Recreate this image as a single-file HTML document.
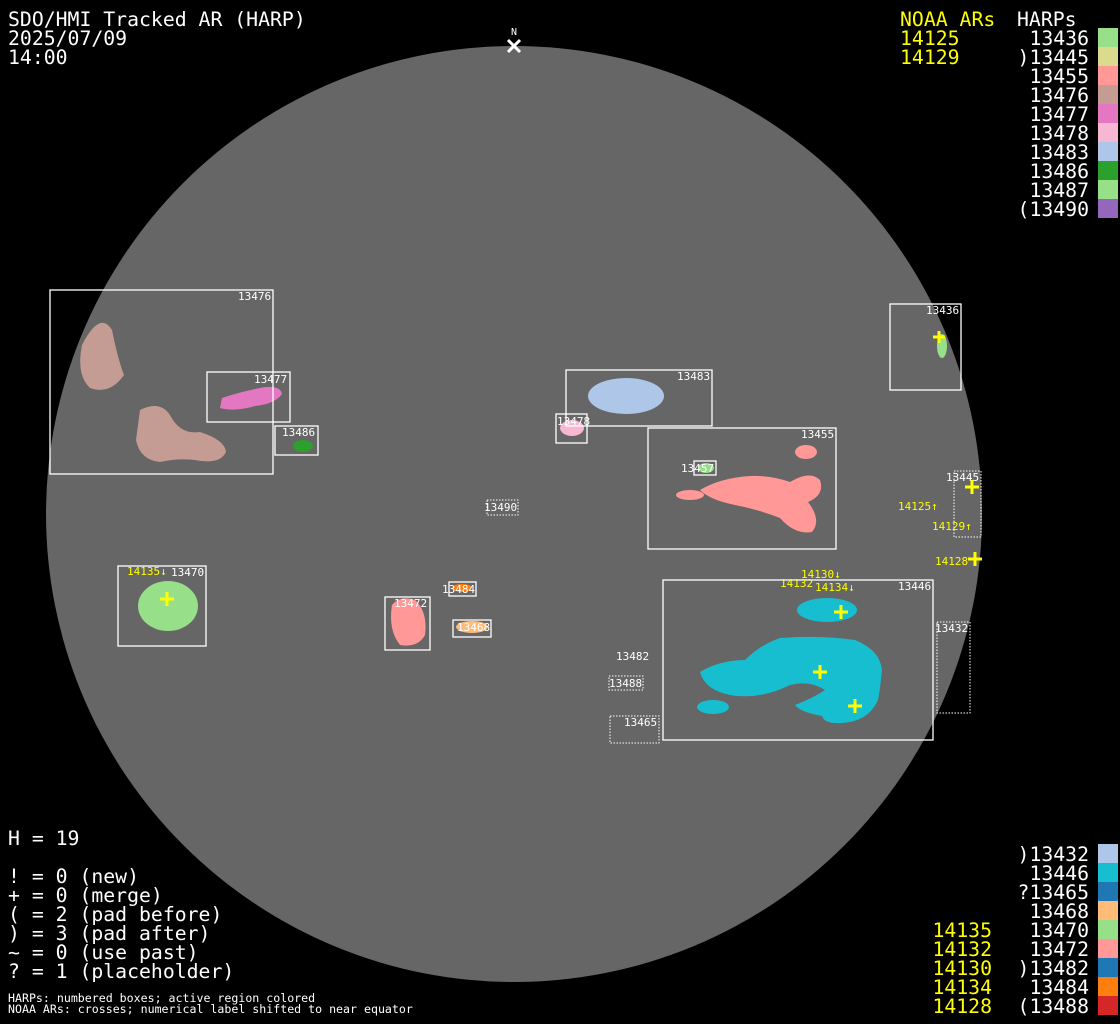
<!DOCTYPE html>
<html><head><meta charset="utf-8"><style>
html,body{margin:0;padding:0;background:#000;width:1120px;height:1024px;overflow:hidden}
svg{display:block}
text{font-family:"DejaVu Sans Mono","Liberation Mono",monospace}
</style></head><body>
<svg width="1120" height="1024" viewBox="0 0 1120 1024" xmlns="http://www.w3.org/2000/svg">
<rect width="1120" height="1024" fill="#000"/>
<circle cx="514" cy="514" r="468" fill="#666"/>
<g stroke="#fff" stroke-width="3"><line x1="508" y1="40" x2="520" y2="52"/><line x1="520" y1="40" x2="508" y2="52"/></g>
<text x="514" y="35" fill="#fff" font-size="10" text-anchor="middle">N</text>

<g>
<path d="M82,345 Q100,310 112,330 Q118,360 124,375 Q110,395 90,388 Q76,375 82,345Z" fill="#c49c94"/>
<path d="M140,410 Q160,400 170,415 Q180,435 200,432 Q225,440 226,452 Q220,465 195,460 Q178,458 160,462 Q140,460 136,440Z" fill="#c49c94"/>
<path d="M222,398 Q240,392 260,388 Q280,384 282,394 Q275,404 255,406 Q235,412 220,408Z" fill="#e377c2"/>
<ellipse cx="303" cy="446" rx="10" ry="6" fill="#2ca02c"/>
<ellipse cx="626" cy="396" rx="38" ry="18" fill="#aec7e8"/>
<ellipse cx="572" cy="428" rx="12" ry="8" fill="#f7b6d2"/>
<path d="M700,490 Q720,478 750,476 Q770,475 790,482 Q810,470 820,480 Q825,495 808,502 Q822,520 812,532 Q795,535 780,518 Q760,510 735,505 Q710,500 700,490Z" fill="#ff9896"/>
<ellipse cx="690" cy="495" rx="14" ry="5" fill="#ff9896"/>
<ellipse cx="806" cy="452" rx="11" ry="7" fill="#ff9896"/>
<ellipse cx="706" cy="468" rx="8" ry="5" fill="#98df8a"/>
<ellipse cx="942" cy="346" rx="5" ry="12" fill="#98df8a"/>
<ellipse cx="168" cy="606" rx="30" ry="25" fill="#98df8a"/>
<path d="M392,605 Q400,595 415,600 Q428,612 425,635 Q418,648 400,645 Q388,630 392,605Z" fill="#ff9896"/>
<ellipse cx="472" cy="627" rx="16" ry="6" fill="#ffbb78"/>
<ellipse cx="462" cy="588" rx="10" ry="4" fill="#ff7f0e"/>
<ellipse cx="827" cy="610" rx="30" ry="12" fill="#17becf"/>
<path d="M700,672 Q720,660 745,660 Q760,645 780,638 Q820,635 855,640 Q880,650 882,670 Q880,690 878,700 Q870,718 850,722 Q825,726 822,716 Q800,712 795,705 Q815,697 825,690 Q810,680 790,685 Q760,700 730,695 Q705,690 700,672Z" fill="#17becf"/>
<ellipse cx="713" cy="707" rx="16" ry="7" fill="#17becf"/>
</g>
<g fill="none" stroke="#fff" stroke-width="1.3">
<rect x="50" y="290" width="223" height="184"/>
<rect x="207" y="372" width="83" height="50"/>
<rect x="275" y="426" width="43" height="29"/>
<rect x="566" y="370" width="146" height="56"/>
<rect x="556" y="414" width="31" height="29"/>
<rect x="648" y="428" width="188" height="121"/>
<rect x="694" y="461" width="22" height="14"/>
<rect x="890" y="304" width="71" height="86"/>
<rect x="118" y="566" width="88" height="80"/>
<rect x="385" y="597" width="45" height="53"/>
<rect x="449" y="582" width="27" height="14"/>
<rect x="453" y="620" width="38" height="17"/>
<rect x="663" y="580" width="270" height="160"/>
</g>
<g fill="none" stroke="#fff" stroke-width="1" stroke-dasharray="1.5,1.5">
<rect x="487" y="500" width="31" height="15"/>
<rect x="954" y="471" width="27" height="66"/>
<rect x="937" y="622" width="33" height="91"/>
<rect x="609" y="676" width="34" height="14"/>
<rect x="610" y="716" width="49" height="27"/>
</g>
<g fill="#fff" font-size="11">
<text x="238" y="300">13476</text><text x="254" y="383">13477</text><text x="282" y="436">13486</text>
<text x="677" y="380">13483</text><text x="557" y="425">13478</text><text x="801" y="438">13455</text>
<text x="681" y="472">13457</text><text x="926" y="314">13436</text><text x="946" y="481">13445</text>
<text x="484" y="511">13490</text><text x="171" y="576">13470</text><text x="394" y="607">13472</text>
<text x="442" y="593">13484</text><text x="457" y="631">13468</text><text x="898" y="590">13446</text>
<text x="935" y="632">13432</text><text x="616" y="660">13482</text><text x="609" y="687">13488</text>
<text x="624" y="726">13465</text>
</g>
<g fill="#ff0" font-size="11">
<text x="898" y="510">14125↑</text><text x="932" y="530">14129↑</text><text x="935" y="565">14128</text>
<text x="127" y="575">14135↓</text><text x="801" y="578">14130↓</text><text x="780" y="587">14132</text><text x="815" y="591">14134↓</text>
</g>
<g stroke="#ff0" stroke-width="3">
<path d="M933,337h12M939,331v12"/><path d="M965,487h14M972,480v14"/><path d="M968,559h14M975,552v14"/>
<path d="M160,599h14M167,592v14"/><path d="M834,612h14M841,605v14"/><path d="M813,672h14M820,665v14"/><path d="M848,706h14M855,699v14"/>
</g>

<g fill="#fff" font-size="19.8">
<text x="8" y="26">SDO/HMI Tracked AR (HARP)</text>
<text x="8" y="45">2025/07/09</text>
<text x="8" y="64">14:00</text>
<text x="1017" y="26">HARPs</text>
</g>
<g fill="#ff0" font-size="19.8"><text x="900" y="26">NOAA ARs</text><text x="900" y="45">14125</text><text x="900" y="64">14129</text></g>
<g fill="#fff" font-size="19.8" text-anchor="end">
<text x="1089" y="45">13436</text><text x="1089" y="64">)13445</text><text x="1089" y="83">13455</text><text x="1089" y="102">13476</text><text x="1089" y="121">13477</text><text x="1089" y="140">13478</text><text x="1089" y="159">13483</text><text x="1089" y="178">13486</text><text x="1089" y="197">13487</text><text x="1089" y="216">(13490</text>
<text x="1089" y="861">)13432</text><text x="1089" y="880">13446</text><text x="1089" y="899">?13465</text><text x="1089" y="918">13468</text><text x="1089" y="937">13470</text><text x="1089" y="956">13472</text><text x="1089" y="975">)13482</text><text x="1089" y="994">13484</text><text x="1089" y="1013">(13488</text>
</g>
<g fill="#ff0" font-size="19.8" text-anchor="end">
<text x="992" y="937">14135</text><text x="992" y="956">14132</text><text x="992" y="975">14130</text><text x="992" y="994">14134</text><text x="992" y="1013">14128</text>
</g>
<g>
<rect x="1098" y="28" width="20" height="19" fill="#98df8a"/><rect x="1098" y="47" width="20" height="19" fill="#dbdb8d"/><rect x="1098" y="66" width="20" height="19" fill="#ff9896"/><rect x="1098" y="85" width="20" height="19" fill="#c49c94"/><rect x="1098" y="104" width="20" height="19" fill="#e377c2"/><rect x="1098" y="123" width="20" height="19" fill="#f7b6d2"/><rect x="1098" y="142" width="20" height="19" fill="#aec7e8"/><rect x="1098" y="161" width="20" height="19" fill="#2ca02c"/><rect x="1098" y="180" width="20" height="19" fill="#98df8a"/><rect x="1098" y="199" width="20" height="19" fill="#9467bd"/>
<rect x="1098" y="844" width="20" height="19" fill="#aec7e8"/><rect x="1098" y="863" width="20" height="19" fill="#17becf"/><rect x="1098" y="882" width="20" height="19" fill="#1f77b4"/><rect x="1098" y="901" width="20" height="19" fill="#ffbb78"/><rect x="1098" y="920" width="20" height="19" fill="#98df8a"/><rect x="1098" y="939" width="20" height="19" fill="#ff9896"/><rect x="1098" y="958" width="20" height="19" fill="#1f77b4"/><rect x="1098" y="977" width="20" height="19" fill="#ff7f0e"/><rect x="1098" y="996" width="20" height="19" fill="#d62728"/>
</g>
<g fill="#fff" font-size="19.8">
<text x="8" y="845">H = 19</text>
<text x="8" y="883">! = 0 (new)</text><text x="8" y="902">+ = 0 (merge)</text><text x="8" y="921">( = 2 (pad before)</text><text x="8" y="940">) = 3 (pad after)</text><text x="8" y="959">~ = 0 (use past)</text><text x="8" y="978">? = 1 (placeholder)</text>
</g>
<g fill="#fff" font-size="11.6"><text x="8" y="1002">HARPs: numbered boxes; active region colored</text><text x="8" y="1013">NOAA ARs: crosses; numerical label shifted to near equator</text></g>
</svg>
</body></html>
